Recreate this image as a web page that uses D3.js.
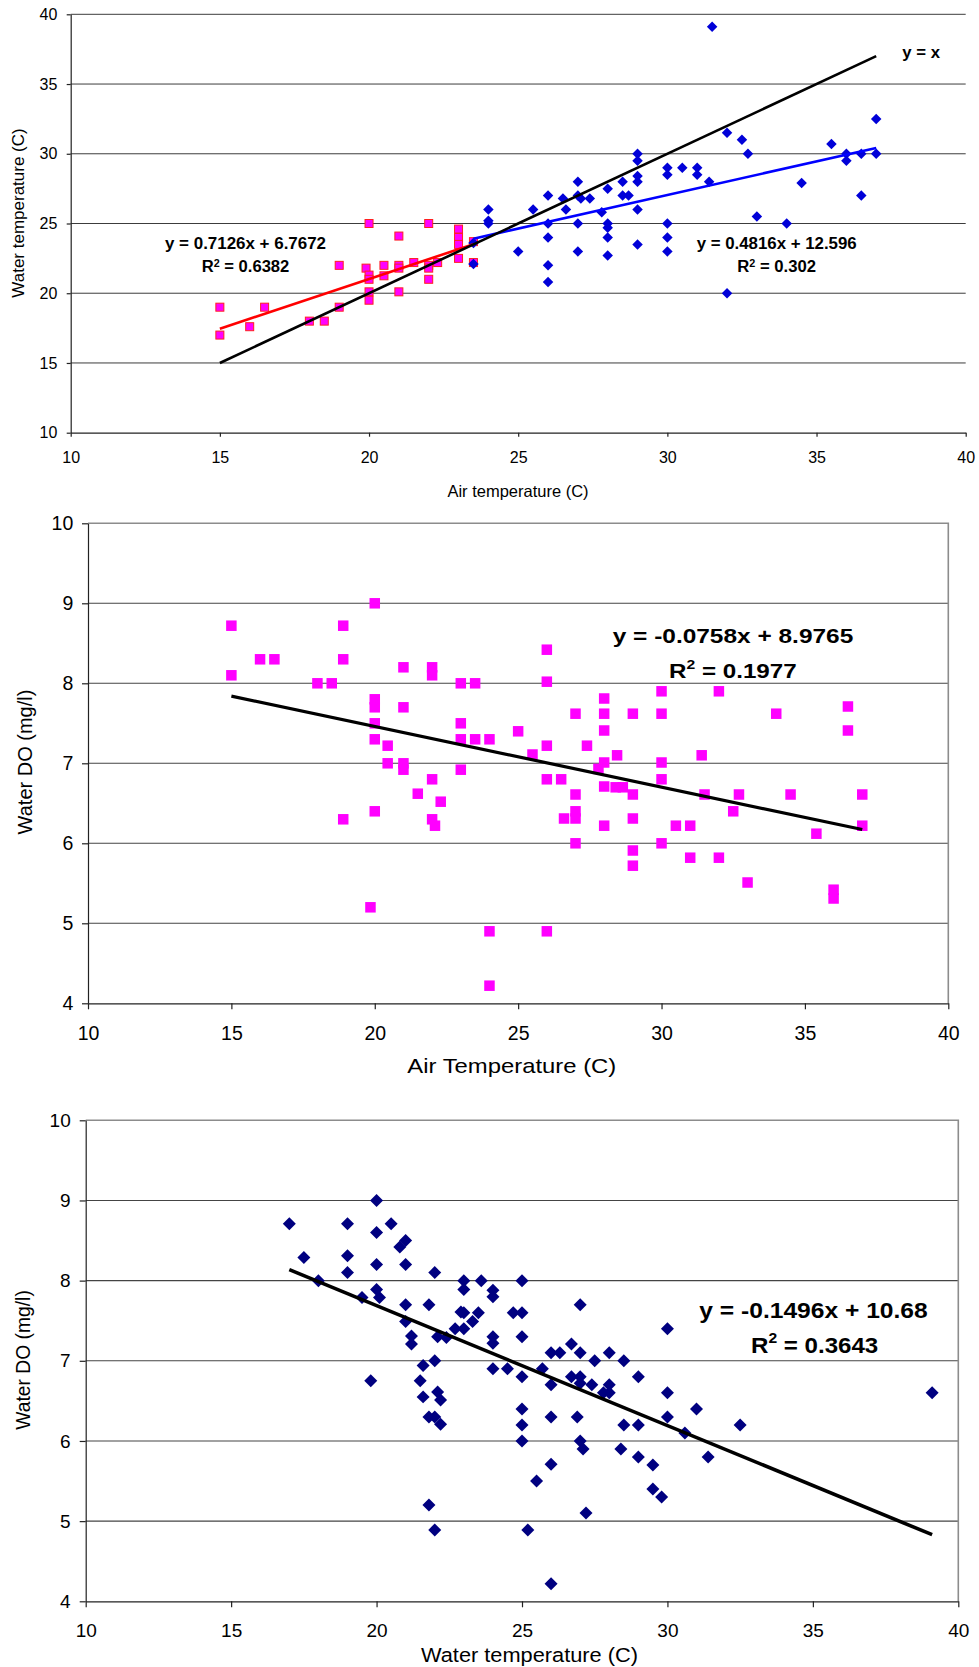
<!DOCTYPE html>
<html><head><meta charset="utf-8">
<script src="https://cdn.jsdelivr.net/npm/d3@7"></script>
<style>
body{margin:0;background:#fff;}
svg{display:block;font-family:"Liberation Sans",Arial,Helvetica,sans-serif;}
</style></head><body>
<svg id="c" width="979" height="1667"></svg>
<script>
// ---------------- data ----------------
const xTickValues = [10, 15, 20, 25, 30, 35, 40];
const yTicksTemp = [10, 15, 20, 25, 30, 35, 40];
const yTicksDO = [4, 5, 6, 7, 8, 9, 10];

// Chart 1: air vs water temperature, cool group (red squares)
const coolAirT = [15,15,16,16.5,18,18.5,19,19,19.9,20,20,20,20,20,20.5,20.5,21,21,21,21,21.5,22,22,22,22,22.3,23,23,23,23,23.5,23.5];
const coolWaterT = [19,17,17.6,19,18,18,19,22,21.8,25,21.3,21,20.1,19.5,22,21.25,24.1,22,21.8,20.1,22.2,25,22,21.8,21,22.2,24.6,24,23.5,22.5,23.7,22.2];
// Chart 1: warm group (blue diamonds)
const warmAirT = [23.5,23.5,24,24,24,25,25.5,26,26,26,26,26,26.5,26.6,27,27,27.1,27,27,27.4,27.8,28,28,28,28,28,28.5,28.5,28.7,29,29,29,29,29,29,30,30,30,30,30,30.5,31,31,31.4,31.5,32,32,32.5,32.7,33,34,34.5,35.5,36,36,36.5,36.5,37,37];
const warmWaterT = [23.6,22.1,26,25.2,25,23,26,27,25,24,22,20.8,26.8,26,28,27,26.8,25,23,26.8,25.8,27.5,25,24.7,24,22.7,28,27,27,30,29.5,28.4,28,26,23.5,29,28.5,25,24,23,29,29,28.5,28,39.1,31.5,20,31,30,25.5,25,27.9,30.7,30,29.5,30,27,32.5,30];

// Chart 2: air temperature vs water DO
const do2AirT = [15,15,16,16.5,18,18.5,18.9,18.9,18.9,20,20,20,20,20,20,19.85,20.45,20.45,21,21,21,21,21.5,22,22,22,22,22.1,22.3,23,23,23,23,23.5,23.5,24,24,24,25,25.5,26,26,26,26,26,26.5,26.6,27,27,27,27,27,27.4,27.8,28,28,28,28,28,28,28.45,28.4,28.65,29,29,29,29,29,30,30,30,30,30,30.5,31,31,31.4,31.5,32,32,32.5,32.7,33,34,34.5,35.4,36,36,36.5,36.5,37,37];
const do2Value = [8.72,8.1,8.3,8.3,8.0,8.0,8.72,8.3,6.3,9.0,7.8,7.7,7.5,7.3,6.4,5.2,7.22,7.0,8.2,7.7,7.0,6.92,6.62,8.2,8.1,6.8,6.3,6.22,6.52,8.0,7.5,7.3,6.92,8.0,7.3,7.3,4.9,4.22,7.4,7.11,8.42,8.02,7.22,6.8,4.9,6.8,6.31,7.62,6.61,6.4,6.31,6.0,7.22,6.93,7.81,7.62,7.41,7.01,6.71,6.22,7.1,6.7,6.7,7.62,6.61,6.31,5.91,5.72,7.9,7.62,7.01,6.8,6.0,6.22,6.22,5.82,7.1,6.61,7.9,5.82,6.4,6.61,5.51,7.62,6.61,6.12,5.42,5.31,7.71,7.41,6.22,6.61];

// Chart 3: water temperature vs water DO
const do3WaterT = [17,17.5,18,19,19,19,19.5,19.8,20,20,20,20,20.1,20.5,20.8,21,21,21,21,21.2,21.2,21.5,21.6,21.6,21.8,21.8,21.8,22,22,22,22,22.1,22.1,22.2,22.2,22.4,22.7,22.9,23,23,23,23,23.3,23.5,23.6,24,24,24,24,24,24.5,24.7,25,25,25,25,25,25,25,25.2,25.5,25.7,26,26,26,26,26,26.3,26.7,26.7,26.9,27,27,27,27,27,27.1,27.2,27.4,27.5,27.8,28,28,28,28.4,28.5,28.5,29,29,29,29.5,29.5,29.8,30,30,30,30.6,31,31.4,32.5,39.1];
const do3Value = [8.71,8.29,8.0,8.71,8.31,8.1,7.79,6.75,9.0,8.6,8.2,7.89,7.79,8.71,8.42,8.5,8.2,7.7,7.49,7.31,7.21,6.75,6.94,6.55,7.7,6.3,5.2,8.1,7.0,6.3,4.89,7.3,6.61,6.51,6.21,7.29,7.4,7.61,8.0,7.89,7.6,7.4,7.49,7.6,8.0,7.88,7.8,7.3,7.22,6.9,6.9,7.6,8.0,7.6,7.3,6.8,6.4,6.2,6.0,4.89,5.5,6.9,7.1,6.7,6.3,5.71,4.22,7.1,7.21,6.8,6.3,7.7,7.1,6.8,6.72,6.0,5.9,5.1,6.7,7.0,6.6,6.7,7.1,6.6,5.9,7.0,6.2,6.8,6.2,5.8,5.7,5.4,5.3,7.4,6.6,6.3,6.1,6.4,5.8,6.2,6.6];

// Linear fits (from the chart labels)
const fitSlopes = [0.7126, 0.4816, -0.0758, -0.1496];
const fitIntercepts = [6.7672, 12.596, 8.9765, 10.68];
const fitEquations = ["y = 0.7126x + 6.7672", "y = 0.4816x + 12.596", "y = -0.0758x + 8.9765", "y = -0.1496x + 10.68"];
const fitR2 = ["0.6382", "0.302", "0.1977", "0.3643"];

// ---------------- drawing ----------------
const svg = d3.select("#c");
const FONT = '"Liberation Sans",Arial,Helvetica,sans-serif';

function styleAxis(sel, fs, stroke) {
  sel.attr("font-size", fs).attr("font-family", FONT);
  sel.select(".domain").attr("stroke", stroke).attr("stroke-width", 1.2);
  sel.selectAll(".tick line").attr("stroke", stroke).attr("stroke-width", 1.2);
  sel.selectAll(".tick text").attr("fill", "#000");
}

function fitLine(g, x, y, xs, i, color, width) {
  const lo = d3.min(xs), hi = d3.max(xs);
  const pts = [lo, hi].map(v => [x(v), y(fitSlopes[i] * v + fitIntercepts[i])]);
  g.append("path").attr("d", d3.line()(pts)).attr("stroke", color)
    .attr("stroke-width", width).attr("fill", "none");
}

function eqText(g, str, x0, base, w, fs) {
  g.append("text").attr("x", x0).attr("y", base).attr("font-size", fs)
    .attr("font-weight", "bold").attr("textLength", w)
    .attr("lengthAdjust", "spacingAndGlyphs").attr("fill", "#000").text(str);
}
function r2Text(g, val, x0, base, w, fs, supShift) {
  const t = g.append("text").attr("x", x0).attr("y", base).attr("font-size", fs)
    .attr("font-weight", "bold").attr("textLength", w)
    .attr("lengthAdjust", "spacingAndGlyphs").attr("fill", "#000");
  t.append("tspan").text("R");
  t.append("tspan").attr("font-size", fs * 0.65).attr("dy", -fs * supShift).text("2");
  t.append("tspan").attr("dy", fs * supShift).text(" = " + val);
}

function squares(g, x, y, xs, ys, size, fill, stroke) {
  g.selectAll(null).data(xs.map((v, k) => [v, ys[k]])).join("rect")
    .attr("x", d => x(d[0]) - size / 2).attr("y", d => y(d[1]) - size / 2)
    .attr("width", size).attr("height", size)
    .attr("fill", fill).attr("stroke", stroke || "none").attr("stroke-width", stroke ? 1 : 0);
}
function diamonds(g, x, y, xs, ys, diag, fill) {
  const side = diag / Math.SQRT2;
  const sym = d3.symbol(d3.symbolSquare, side * side);
  g.selectAll(null).data(xs.map((v, k) => [v, ys[k]])).join("path")
    .attr("d", sym)
    .attr("transform", d => `translate(${x(d[0])},${y(d[1])}) rotate(45)`)
    .attr("fill", fill);
}

// ===== Chart 1 =====
{
  const g = svg.append("g");
  const x = d3.scaleLinear().domain([10, 40]).range([70.7, 965.7]);
  const y = d3.scaleLinear().domain([10, 40]).range([432.7, 14.3]);
  g.selectAll(null).data(yTicksTemp.slice(1)).join("line")
    .attr("x1", x(10)).attr("x2", x(40)).attr("y1", d => y(d)).attr("y2", d => y(d))
    .attr("stroke", "#3c3c3c").attr("stroke-width", 1);
  const ax = g.append("g").attr("transform", `translate(0,${y(10)})`)
    .call(d3.axisBottom(x).tickValues(xTickValues).tickSize(4).tickSizeOuter(0).tickPadding(15).tickFormat(d3.format("d")));
  styleAxis(ax, 16, "#222");
  const ay = g.append("g").attr("transform", `translate(${x(10)},0)`)
    .call(d3.axisLeft(y).tickValues(yTicksTemp).tickSize(4).tickSizeOuter(0).tickPadding(9.4).tickFormat(d3.format("d")));
  styleAxis(ay, 16, "#222");

  squares(g, x, y, coolAirT, coolWaterT, 8, "#ff00ff", "#ff2020");
  diamonds(g, x, y, warmAirT, warmWaterT, 10.5, "#0000d8");

  fitLine(g, x, y, coolAirT, 0, "#ff0000", 2.6);
  fitLine(g, x, y, warmAirT, 1, "#0000ff", 2.6);
  const all = coolAirT.concat(warmAirT);
  const lo = d3.min(all), hi = d3.max(all);
  g.append("path").attr("d", d3.line()([[x(lo), y(lo)], [x(hi), y(hi)]]))
    .attr("stroke", "#000").attr("stroke-width", 2.6).attr("fill", "none");

  eqText(g, fitEquations[0], 165, 248.5, 161, 16);
  r2Text(g, fitR2[0], 201.7, 272, 87.6, 16, 0.3);
  eqText(g, fitEquations[1], 696.7, 248.5, 160, 16);
  r2Text(g, fitR2[1], 737.3, 272, 78.7, 16, 0.3);
  eqText(g, "y = x", 902.3, 57.5, 37.7, 16);

  g.append("text").attr("x", 518).attr("y", 496.5).attr("text-anchor", "middle")
    .attr("font-size", 16.5).attr("fill", "#000").text("Air temperature (C)");
  g.append("text").attr("transform", "translate(24,213) rotate(-90)").attr("text-anchor", "middle")
    .attr("font-size", 17).attr("fill", "#000").text("Water temperature (C)");
}

// ===== Chart 2 =====
{
  const g = svg.append("g");
  const x = d3.scaleLinear().domain([10, 40]).range([88, 948.3]);
  const y = d3.scaleLinear().domain([4, 10]).range([1003.3, 523.3]);
  g.selectAll(null).data(yTicksDO.slice(1, -1)).join("line")
    .attr("x1", x(10)).attr("x2", x(40)).attr("y1", d => y(d)).attr("y2", d => y(d))
    .attr("stroke", "#444").attr("stroke-width", 1.1);
  g.append("path").attr("d", d3.line()([[x(10), y(10)], [x(40), y(10)], [x(40), y(4)]]))
    .attr("stroke", "#8c8c8c").attr("stroke-width", 1.6).attr("fill", "none");
  const ax = g.append("g").attr("transform", `translate(0,${y(4)})`)
    .call(d3.axisBottom(x).tickValues(xTickValues).tickSize(6).tickSizeOuter(0).tickPadding(16.5).tickFormat(d3.format("d")));
  styleAxis(ax, 19.5, "#222");
  const ay = g.append("g").attr("transform", `translate(${x(10)},0)`)
    .call(d3.axisLeft(y).tickValues(yTicksDO).tickSize(6).tickSizeOuter(0).tickPadding(8.7).tickFormat(d3.format("d")));
  styleAxis(ay, 19.5, "#222");

  squares(g, x, y, do2AirT, do2Value, 10.5, "#ff00ff");
  fitLine(g, x, y, do2AirT, 2, "#000", 3.2);

  eqText(g, fitEquations[2], 612.7, 642.7, 240.6, 21);
  r2Text(g, fitR2[2], 669, 678.3, 127.7, 21, 0.45);

  g.append("text").attr("x", 407.3).attr("y", 1073.3).attr("textLength", 209)
    .attr("lengthAdjust", "spacingAndGlyphs")
    .attr("font-size", 21).attr("fill", "#000").text("Air Temperature (C)");
  g.append("text").attr("transform", "translate(32,762) rotate(-90)").attr("text-anchor", "middle")
    .attr("font-size", 20).attr("fill", "#000").text("Water DO (mg/l)");
}

// ===== Chart 3 =====
{
  const g = svg.append("g");
  const x = d3.scaleLinear().domain([10, 40]).range([85.7, 958.3]);
  const y = d3.scaleLinear().domain([4, 10]).range([1601.3, 1120.3]);
  g.selectAll(null).data(yTicksDO.slice(1, -1)).join("line")
    .attr("x1", x(10)).attr("x2", x(40)).attr("y1", d => y(d)).attr("y2", d => y(d))
    .attr("stroke", "#444").attr("stroke-width", 1.1);
  g.append("path").attr("d", d3.line()([[x(10), y(10)], [x(40), y(10)], [x(40), y(4)]]))
    .attr("stroke", "#8c8c8c").attr("stroke-width", 1.6).attr("fill", "none");
  const ax = g.append("g").attr("transform", `translate(0,${y(4)})`)
    .call(d3.axisBottom(x).tickValues(xTickValues).tickSize(6).tickSizeOuter(0).tickPadding(16.3).tickFormat(d3.format("d")));
  styleAxis(ax, 19, "#222");
  const ay = g.append("g").attr("transform", `translate(${x(10)},0)`)
    .call(d3.axisLeft(y).tickValues(yTicksDO).tickSize(6).tickSizeOuter(0).tickPadding(9).tickFormat(d3.format("d")));
  styleAxis(ay, 19, "#222");

  diamonds(g, x, y, do3WaterT, do3Value, 13, "#000080");
  fitLine(g, x, y, do3WaterT, 3, "#000", 3.6);

  eqText(g, fitEquations[3], 699.3, 1318.3, 228.4, 22);
  r2Text(g, fitR2[3], 751, 1353.3, 127.3, 22, 0.45);

  g.append("text").attr("x", 421).attr("y", 1662).attr("textLength", 217)
    .attr("lengthAdjust", "spacingAndGlyphs")
    .attr("font-size", 20.5).attr("fill", "#000").text("Water temperature (C)");
  g.append("text").attr("transform", "translate(30,1360) rotate(-90)").attr("text-anchor", "middle")
    .attr("font-size", 19.3).attr("fill", "#000").text("Water DO (mg/l)");
}
</script>
</body></html>
